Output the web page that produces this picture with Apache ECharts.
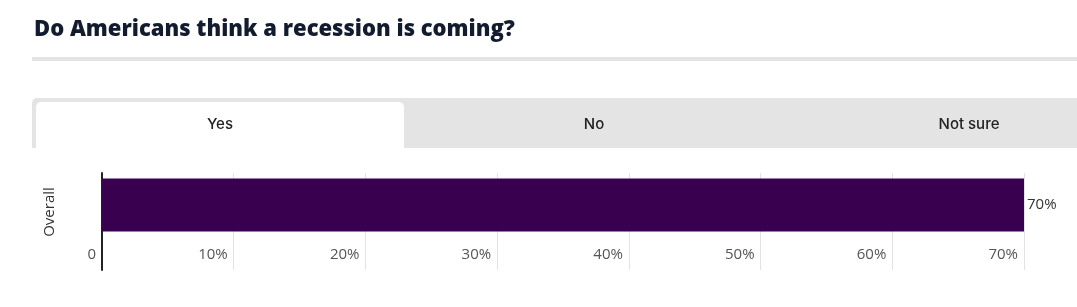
<!DOCTYPE html>
<html>
<head>
<meta charset="utf-8">
<script src="https://cdn.jsdelivr.net/npm/echarts@6/dist/echarts.min.js"></script>
<style>
html,body{margin:0;padding:0;background:#fff;}
#chart{width:1077px;height:307px;}
</style>
</head>
<body>
<div id="chart"></div>
<script>
var categories = ['Overall'];
var yesValues = [70];
var tabLabels = ['Yes', 'No', 'Not sure'];
var tickMax = 70;
var tickStep = 10;

var chart = echarts.init(document.getElementById('chart'), null, {renderer: 'canvas'});
var tabCenters = [220, 594, 969];
var graphics = [
  {type: 'rect', shape: {x: 32, y: 57, width: 1045, height: 4}, style: {fill: '#e4e4e4'}, silent: true},
  {type: 'rect', shape: {x: 32, y: 98, width: 1045, height: 50, r: [5, 0, 0, 0]}, style: {fill: '#e4e4e4'}, silent: true},
  {type: 'rect', shape: {x: 36, y: 102, width: 368, height: 46, r: [5, 5, 0, 0]}, style: {fill: '#ffffff'}, silent: true}
];
tabLabels.forEach(function (t, i) {
  graphics.push({type: 'text', x: tabCenters[i], y: 124, silent: true,
    style: {text: t, fill: '#222', font: '500 15px Inter', align: 'center', verticalAlign: 'middle'}});
});

var fmt = function (v) { return v === 0 ? '0' : v + '%'; };

chart.setOption({
  animation: false,
  title: {
    text: 'Do Americans think a recession is coming?',
    left: 34, top: 19, padding: 0,
    textStyle: {fontFamily: 'Open Sans', fontWeight: 800, fontSize: 22, color: '#131c2e'}
  },
  graphic: graphics,
  grid: [
    {left: 102, right: 53, top: 173, bottom: 70},
    {left: 102, right: 53, top: 173, bottom: 37}
  ],
  xAxis: [
    {gridIndex: 0, type: 'value', min: 0, max: tickMax, interval: tickStep,
      axisLine: {show: false}, axisTick: {show: false}, splitLine: {show: false}, axisLabel: {show: false}},
    {gridIndex: 1, type: 'value', min: 0, max: tickMax, interval: tickStep,
      axisLine: {show: false}, axisTick: {show: false},
      splitLine: {show: true, lineStyle: {color: '#e2e2e2', width: 1}},
      axisLabel: {
        inside: true, margin: 8, align: 'right', padding: [0, 6, 0, 0],
        color: '#555', fontFamily: 'Open Sans', fontSize: 15, formatter: fmt
      }}
  ],
  yAxis: [
    {gridIndex: 0, type: 'category', data: categories,
      axisLine: {show: false}, axisTick: {show: false},
      axisLabel: {rotate: 90, margin: 45, color: '#333', fontFamily: 'Open Sans', fontSize: 15, align: 'center',
        padding: [0, 14, 0, 0]}},
    {gridIndex: 1, type: 'category', data: categories,
      axisLine: {show: true, lineStyle: {color: '#222', width: 2}},
      axisTick: {show: false}, axisLabel: {show: false}}
  ],
  series: [{
    type: 'bar', xAxisIndex: 0, yAxisIndex: 0, data: yesValues, barWidth: 53,
    itemStyle: {color: '#3a0050'},
    label: {show: true, position: 'right', distance: 3, color: '#333', fontFamily: 'Open Sans', fontSize: 15,
      formatter: function (p) { return fmt(p.value); }}
  }]
});
</script>
</body>
</html>
